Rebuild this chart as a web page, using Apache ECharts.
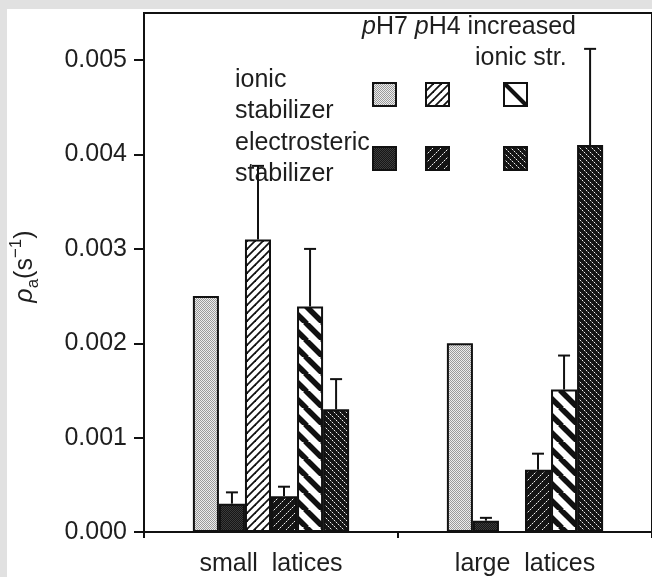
<!DOCTYPE html>
<html><head><meta charset="utf-8">
<script src="https://cdn.jsdelivr.net/npm/echarts@6/dist/echarts.min.js"></script>
<style>html,body{margin:0;padding:0;background:#fff}#c{width:652px;height:577px}</style>
</head><body><div id="c"></div>
<script>
// ---- data ----
const categories = ['small  latices', 'large  latices'];
const seriesNames = ['ionic pH7', 'electrosteric pH7', 'ionic pH4', 'electrosteric pH4', 'ionic increased ionic str.', 'electrosteric increased ionic str.'];
const ionicPH7 = [0.0025, 0.0020];
const electroPH7 = [0.0003, 0.00012];
const ionicPH4 = [0.0031, null];
const electroPH4 = [0.00038, 0.00066];
const ionicIS = [0.00239, 0.00151];
const electroIS = [0.0013, 0.0041];
// upper error lengths
const ionicPH7Err = [null, null];
const electroPH7Err = [0.00012, 0.00003];
const ionicPH4Err = [0.00078, null];
const electroPH4Err = [0.0001, 0.00017];
const ionicISErr = [0.00061, 0.00036];
const electroISErr = [0.00032, 0.00102];
const yTicks = [0, 0.001, 0.002, 0.003, 0.004, 0.005];
const yMax = 0.0055;

// ---- patterns ----
function tile(w, h, draw) {
  const c = document.createElement('canvas'); c.width = w; c.height = h;
  const g = c.getContext('2d'); draw(g, w, h); return c;
}
function stipple(light, dark) {
  return tile(2, 2, (g) => { g.fillStyle = light; g.fillRect(0,0,2,2); g.fillStyle = dark; g.fillRect(0,0,1,1); g.fillRect(1,1,1,1); });
}
function hatch(n, lw, dir, bg, fg) {
  return tile(n, n, (g) => {
    g.fillStyle = bg; g.fillRect(0,0,n,n);
    g.strokeStyle = fg; g.lineWidth = lw;
    for (const o of [-n, 0, n]) {
      g.beginPath();
      if (dir === '/') { g.moveTo(o - 1, n + 1); g.lineTo(o + n + 1, -1); }
      else { g.moveTo(o - 1, -1); g.lineTo(o + n + 1, n + 1); }
      g.stroke();
    }
  });
}
function dotted(n, dir, bg, fg, fg2) {
  return tile(n, n, (g) => {
    g.fillStyle = bg; g.fillRect(0,0,n,n);
    for (let i = 0; i < n; i++) {
      g.fillStyle = (i % 2 === 0) ? fg : fg2;
      if (dir === '/') g.fillRect(i, n - 1 - i, 1, 1); else g.fillRect(i, i, 1, 1);
    }
  });
}
const pats = [
  stipple('#ececec', '#9a9a9a'),
  stipple('#161616', '#3c3c3c'),
  hatch(8, 1.8, '/', '#ffffff', '#111111'),
  dotted(8, '/', '#151515', '#f0f0f0', '#666666'),
  hatch(17, 5.5, '\\', '#ffffff', '#111111'),
  dotted(6, '\\', '#151515', '#eeeeee', '#606060')
];
const fills = pats.map(p => ({ image: p, repeat: 'repeat' }));

const GAP = 0.385;
const valueSets = [ionicPH7, electroPH7, ionicPH4, electroPH4, ionicIS, electroIS];
const errSets = [ionicPH7Err, electroPH7Err, ionicPH4Err, electroPH4Err, ionicISErr, electroISErr];
const errData = [];
valueSets.forEach((vals, s) => vals.forEach((v, c) => {
  const e = errSets[s][c];
  if (v != null && e != null) errData.push([c, s, v, e]);
}));

const FONT = 'Liberation Sans, Arial, Helvetica, sans-serif';
const INK = '#1e1e1e';

const barSeries = valueSets.map((vals, s) => ({
  name: seriesNames[s],
  type: 'bar',
  data: vals.map(v => v == null ? '-' : v),
  barGap: '0%',
  barCategoryGap: (GAP * 100) + '%',
  itemStyle: { color: fills[s], borderColor: '#111', borderWidth: 2 },
  z: 2
}));

// legend squares
const legX = [373, 426, 504];
const legY = [83, 147];
const legendGraphics = [];
[[0, 2, 4], [1, 3, 5]].forEach((row, r) => row.forEach((s, k) => {
  const children = [{ type: 'rect', shape: { x: 0, y: 0, width: 23, height: 23 }, style: { fill: fills[s], stroke: '#111', lineWidth: 2 } }];
  if (s === 4) { children[0].style.fill = '#fff'; children.push({ type: 'line', shape: { x1: 1, y1: 1, x2: 22, y2: 22 }, style: { stroke: '#111', lineWidth: 4 } }); }
  legendGraphics.push({ type: 'group', x: legX[k], y: legY[r], children });
}));

function txt(x, y, text, extra) {
  return Object.assign({ type: 'text', x, y, silent: true, style: { text, fontSize: 25, fontFamily: FONT, fill: INK, verticalAlign: 'middle', align: 'left' } }, extra || {});
}

const chart = echarts.init(document.getElementById('c'), null, { renderer: 'canvas' });
chart.setOption({
  backgroundColor: '#ffffff',
  animation: false,
  grid: { left: 143, top: 13, right: -5, bottom: 41, show: true, borderColor: '#111', borderWidth: 2, backgroundColor: 'transparent' },
  xAxis: {
    type: 'category', data: categories,
    axisLine: { lineStyle: { color: '#111', width: 2 } },
    axisTick: { show: true, length: 6, lineStyle: { color: '#111', width: 2 } },
    axisLabel: { fontSize: 25, fontFamily: FONT, color: INK, margin: 20, interval: 0 },
    splitLine: { show: false }
  },
  yAxis: {
    type: 'value', min: 0, max: yMax, interval: 0.001,
    axisLine: { show: true, lineStyle: { color: '#111', width: 2 } },
    axisTick: { show: true, length: 10, customValues: yTicks, lineStyle: { color: '#111', width: 2 } },
    axisLabel: { fontSize: 25, fontFamily: FONT, color: INK, margin: 17, customValues: yTicks, formatter: v => v.toFixed(3) },
    splitLine: { show: false },
    name: '{r|ρ}{s|a}{n|(s}{p|−1}{n|)}',
    nameLocation: 'middle', nameRotate: 90, nameGap: 102,
    nameTextStyle: {
      fontSize: 25, fontFamily: FONT, color: INK, padding: [0, 0, 0, 12],
      rich: {
        r: { fontSize: 25, fontFamily: FONT, fontStyle: 'italic', color: INK, lineHeight: 34, verticalAlign: 'middle' },
        s: { fontSize: 17, fontFamily: FONT, color: INK, lineHeight: 34, verticalAlign: 'bottom' },
        n: { fontSize: 25, fontFamily: FONT, color: INK, lineHeight: 34, verticalAlign: 'middle' },
        p: { fontSize: 17, fontFamily: FONT, color: INK, lineHeight: 34, verticalAlign: 'top' }
      }
    }
  },
  series: barSeries.concat([{
    type: 'custom',
    name: 'error',
    data: errData,
    encode: { x: 0, y: 2 },
    z: 3,
    renderItem: function (params, api) {
      const c = api.value(0), s = api.value(1), v = api.value(2), e = api.value(3);
      const p0 = api.coord([c, v]), p1 = api.coord([c, v + e]);
      const band = api.size([1, 0])[0];
      const bw = band * (1 - GAP) / 6;
      const x = p0[0] + (s - 2.5) * bw;
      return { type: 'group', children: [
        { type: 'line', shape: { x1: x, y1: p0[1], x2: x, y2: p1[1] }, style: { stroke: '#111', lineWidth: 2 } },
        { type: 'line', shape: { x1: x - 6, y1: p1[1], x2: x + 6, y2: p1[1] }, style: { stroke: '#111', lineWidth: 2 } }
      ] };
    }
  }]),
  graphic: [
    { type: 'rect', silent: true, shape: { x: 0, y: 0, width: 652, height: 9 }, style: { fill: '#e1e1e1' }, z: 10 },
    { type: 'rect', silent: true, shape: { x: 0, y: 0, width: 7, height: 577 }, style: { fill: '#e1e1e1' }, z: 10 },
    txt(362, 27, '', { style: { text: '{i|p}H7 {i|p}H4 increased', fontSize: 25, fontFamily: FONT, fill: INK, verticalAlign: 'middle', align: 'left', rich: { i: { fontStyle: 'italic', fontSize: 25, fontFamily: FONT, fill: INK } } } }),
    txt(475, 58, 'ionic str.'),
    txt(235, 80, 'ionic'),
    txt(235, 111, 'stabilizer'),
    txt(235, 143, 'electrosteric'),
    txt(235, 174, 'stabilizer')
  ].concat(legendGraphics)
});
</script>
</body></html>
